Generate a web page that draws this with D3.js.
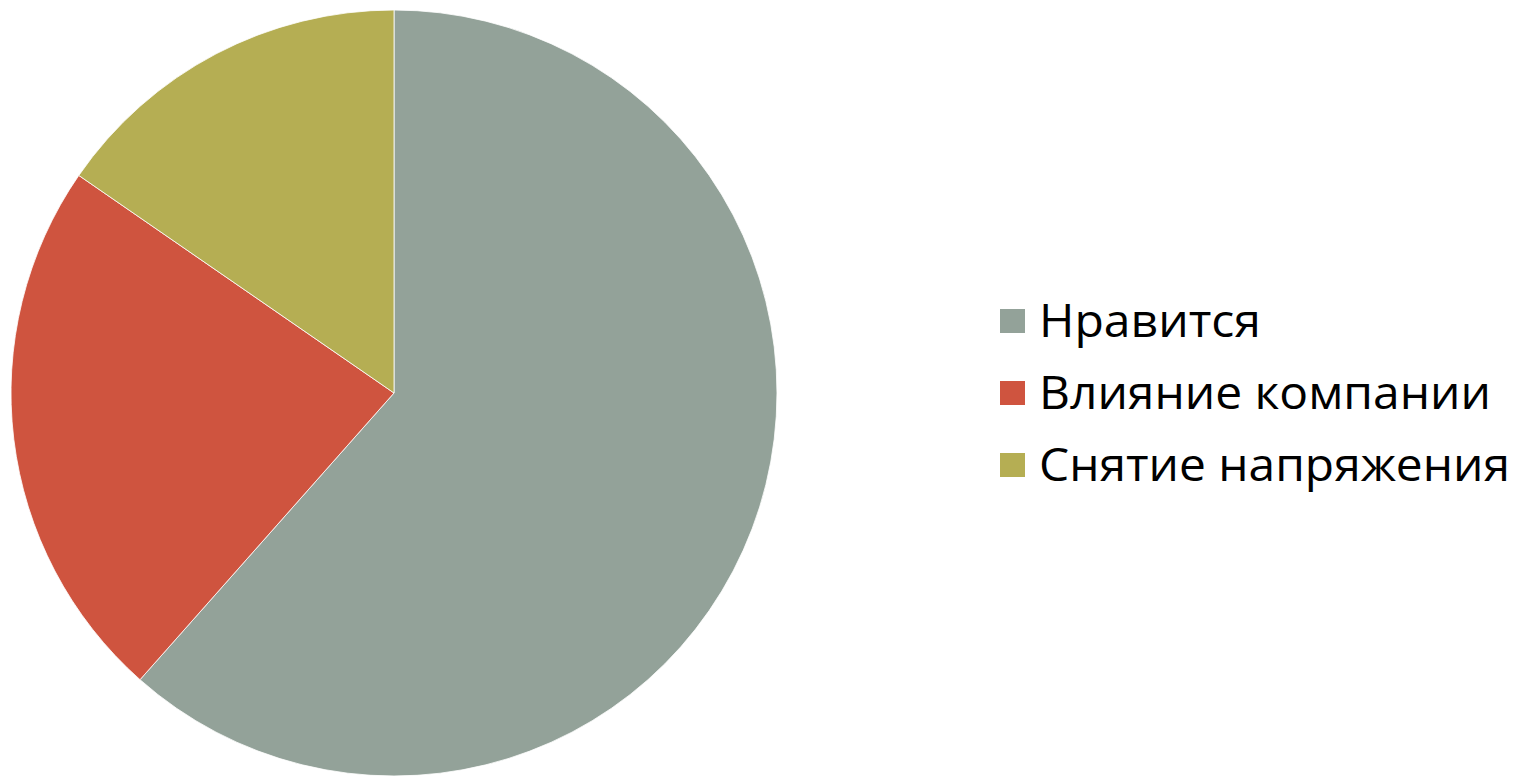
<!DOCTYPE html>
<html>
<head>
<meta charset="utf-8">
<script src="https://cdn.jsdelivr.net/npm/d3@7"></script>
<style>
  body { margin: 0; background: #fff; }
  text { font-family: "Open Sans", "DejaVu Sans", sans-serif; fill: #000; }
</style>
</head>
<body>
<svg id="chart" width="1520" height="778"></svg>
<script>
var categories = ["Нравится", "Влияние компании", "Снятие напряжения"];
var values = [8, 3, 2];
var colors = ["#93A299", "#CF543F", "#B5AE53"];

var svg = d3.select("#chart");
var cx = 394, cy = 393, radius = 383;

var rows = categories.map(function(c, i){ return {name: c, value: values[i], color: colors[i]} });

var pie = d3.pie().sort(null).value(function(d){ return d.value });
var arc = d3.arc().innerRadius(0).outerRadius(radius);

var g = svg.append("g").attr("transform", "translate(" + cx + "," + cy + ")");
g.selectAll("path")
  .data(pie(rows))
  .enter()
  .append("path")
    .attr("d", arc)
    .attr("fill", function(d){ return d.data.color })
    .attr("stroke", "#fff")
    .attr("stroke-width", 0.8);

// legend
var legend = svg.append("g").attr("transform", "translate(1000,309)");
var items = legend.selectAll("g.item")
  .data(rows)
  .enter()
  .append("g")
    .attr("class", "item")
    .attr("transform", function(d, i){ return "translate(0," + (i * 72) + ")" });

items.append("rect")
  .attr("width", 25)
  .attr("height", 24)
  .attr("fill", function(d){ return d.color });

var widths = [222, 452, 471];
items.append("text")
  .attr("x", 39)
  .attr("y", 28)
  .style("font-size", "45px")
  .attr("textLength", function(d, i){ return widths[i] })
  .attr("lengthAdjust", "spacingAndGlyphs")
  .text(function(d){ return d.name });
</script>
</body>
</html>
